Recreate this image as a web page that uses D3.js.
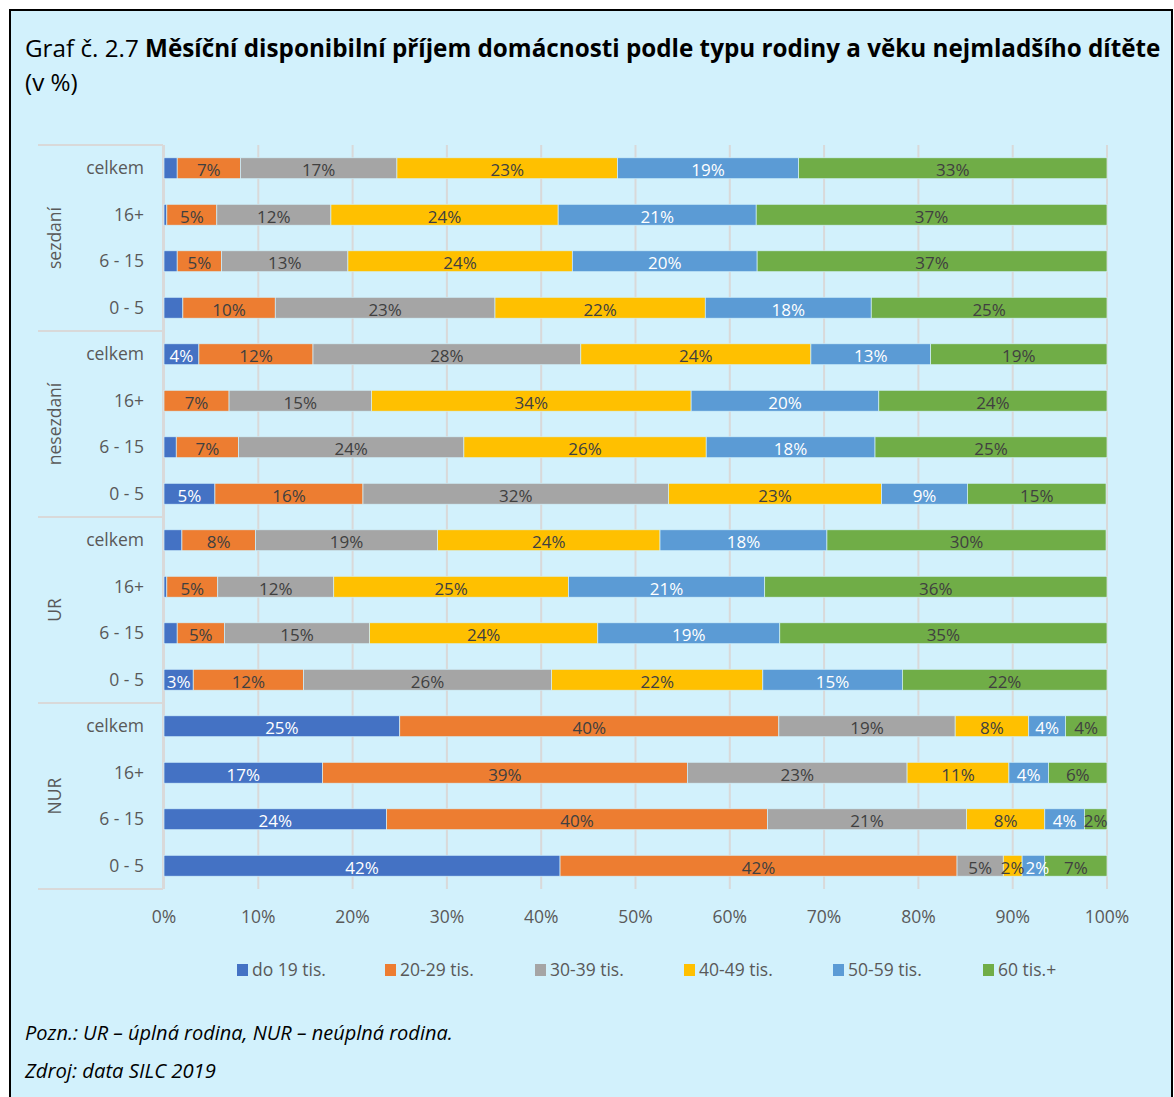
<!DOCTYPE html>
<html>
<head>
<meta charset="utf-8">
<script src="https://cdn.jsdelivr.net/npm/d3@7"></script>
<style>
  body { margin: 0; background: #fff; }
  svg text { font-family: "Open Sans", "Noto Sans", sans-serif; }
</style>
</head>
<body>
<div id="chart"></div>
<script>
// rows: groups x ages, top to bottom
const groups = ["sezdaní", "nesezdaní", "UR", "NUR"];
const ages = ["celkem", "16+", "6 - 15", "0 - 5"];
const series = ["do 19 tis.", "20-29 tis.", "30-39 tis.", "40-49 tis.", "50-59 tis.", "60 tis.+"];
const colors = ["#4472c4", "#ed7d31", "#a5a5a5", "#ffc000", "#5b9bd5", "#70ad47"];
const xTicks = [0, 10, 20, 30, 40, 50, 60, 70, 80, 90, 100];

// values in %, one entry per row
const do19 = [1.4, 0.3, 1.4, 2.0, 3.7, 0, 1.3, 5.4, 1.9, 0.3, 1.4, 3.1, 25.0, 16.8, 23.6, 42.0];
const t20_29 = [6.7, 5.3, 4.7, 9.8, 12.1, 6.9, 6.6, 15.7, 7.8, 5.4, 5.0, 11.7, 40.2, 38.7, 40.4, 42.1];
const t30_39 = [16.6, 12.1, 13.4, 23.3, 28.4, 15.1, 23.9, 32.4, 19.3, 12.3, 15.4, 26.3, 18.7, 23.3, 21.1, 4.9];
const t40_49 = [23.4, 24.1, 23.8, 22.3, 24.4, 33.9, 25.7, 22.6, 23.6, 24.9, 24.2, 22.4, 7.8, 10.8, 8.3, 2.0];
const t50_59 = [19.2, 21.0, 19.6, 17.6, 12.7, 19.9, 17.9, 9.1, 17.7, 20.8, 19.3, 14.8, 3.9, 4.2, 4.2, 2.4];
const t60 = [32.7, 37.2, 37.2, 25.0, 18.7, 24.2, 24.7, 14.7, 29.6, 36.3, 34.8, 21.7, 4.4, 6.2, 2.4, 6.6];

const values = [do19, t20_29, t30_39, t40_49, t50_59, t60];
const labelColors = ["#ffffff", "#404040", "#404040", "#404040", "#ffffff", "#404040"];

const rows = groups.flatMap(g => ages.map(a => ({group: g, age: a, id: g + "|" + a})));
rows.forEach((r, i) => {
    r.values = values.map(s => s[i]);
})

const W = 1174, H = 1097;
const svg = d3.select("#chart").append("svg")
    .attr("width", W)
    .attr("height", H);

// scale font so a text line fills the width it has in the picture
const fitWidth = (sel, size, target) => {
    const w = sel.node().getComputedTextLength();
    const s = size * target / w;
    sel.attr("font-size", s);
    return s;
}

// panel
svg.append("rect")
    .attr("x", 10).attr("y", 10)
    .attr("width", 1162).attr("height", H + 20)
    .attr("fill", "#d2f1fc")
    .attr("stroke", "#000")
    .attr("stroke-width", 2);

// title
const title = svg.append("text")
    .attr("x", 25).attr("y", 57)
    .attr("font-size", 22)
    .attr("fill", "#000");
title.append("tspan").text("Graf č. 2.7 ");
title.append("tspan").attr("font-weight", "bold")
    .text("Měsíční disponibilní příjem domácnosti podle typu rodiny a věku nejmladšího dítěte");
const titleSize = fitWidth(title, 22, 1136);

svg.append("text")
    .attr("x", 25).attr("y", 91)
    .attr("font-size", titleSize)
    .attr("fill", "#000")
    .text("(v %)");

const x = d3.scaleLinear().domain([0, 100]).range([164, 1107]);
const y = d3.scaleBand()
    .domain(rows.map(r => r.id))
    .range([145, 889])
    .paddingInner(0.55)
    .paddingOuter(0.275);

// gridlines
svg.append("g")
    .selectAll("line")
    .data(xTicks)
    .join("line")
    .attr("x1", d => x(d)).attr("x2", d => x(d))
    .attr("y1", 145).attr("y2", 889)
    .attr("stroke", "#d9d9d9")
    .attr("stroke-width", 2);

// x tick labels
svg.append("g")
    .selectAll("text")
    .data(xTicks)
    .join("text")
    .attr("x", d => x(d))
    .attr("y", 923)
    .attr("text-anchor", "middle")
    .attr("font-size", 17.5)
    .attr("fill", "#595959")
    .text(d => d + "%");

// category axis: vertical line + group separators
svg.append("line")
    .attr("x1", 163).attr("x2", 163)
    .attr("y1", 145).attr("y2", 889)
    .attr("stroke", "#d9d9d9").attr("stroke-width", 2);

const groupStep = (889 - 145) / groups.length;
svg.append("g")
    .selectAll("line")
    .data(d3.range(groups.length + 1))
    .join("line")
    .attr("x1", 38).attr("x2", 163)
    .attr("y1", i => 145 + i * groupStep)
    .attr("y2", i => 145 + i * groupStep)
    .attr("stroke", "#d9d9d9").attr("stroke-width", 2);

svg.append("g")
    .selectAll("text")
    .data(groups)
    .join("text")
    .attr("transform", (d, i) => `translate(61,${145 + (i + 0.5) * groupStep}) rotate(-90)`)
    .attr("text-anchor", "middle")
    .attr("font-size", 17.5)
    .attr("fill", "#595959")
    .text(d => d);

// age labels
svg.append("g")
    .selectAll("text")
    .data(rows)
    .join("text")
    .attr("x", 144)
    .attr("y", d => y(d.id) + y.bandwidth() / 2)
    .attr("dy", "0.35em")
    .attr("text-anchor", "end")
    .attr("font-size", 17.5)
    .attr("fill", "#595959")
    .text(d => d.age);

// stacked segments
const segs = rows.flatMap(r => {
    let acc = 0;
    return r.values.map((v, i) => {
        const s = {row: r.id, i, v, x0: acc, x1: acc + v};
        acc += v;
        return s;
    })
});

svg.append("g")
    .selectAll("rect")
    .data(segs.filter(s => s.v > 0))
    .join("rect")
    .attr("x", d => x(d.x0))
    .attr("y", d => y(d.row))
    .attr("width", d => x(Math.min(d.x1, 100)) - x(d.x0))
    .attr("height", y.bandwidth())
    .attr("fill", d => colors[d.i])
    .attr("stroke", "#d2f1fc")
    .attr("stroke-width", 0.7);

const labels = svg.append("g")
    .selectAll("text")
    .data(segs.filter(s => s.v >= 2.5 || (s.i > 0 && s.v >= 1.5)))
    .join("text")
    .attr("x", d => x((d.x0 + Math.min(d.x1, 100)) / 2))
    .attr("y", d => y(d.row) + y.bandwidth() / 2 + 2)
    .attr("dy", "0.35em")
    .attr("text-anchor", "middle")
    .attr("font-size", 17)
    .attr("fill", d => labelColors[d.i])
    .text(d => Math.round(d.v) + "%");

// push a label right when it runs into the previous one in its row
let prev = null;
labels.each(function (d) {
    const el = d3.select(this);
    const w = this.getComputedTextLength();
    let cx = +el.attr("x");
    if (prev && prev.row === d.row && cx - w / 2 < prev.right + 1) {
        cx = prev.right + 1 + w / 2;
        el.attr("x", cx);
    }
    prev = {row: d.row, right: cx + w / 2};
});

// legend
const legendX = [237, 385, 535, 684, 833, 983];
const legend = svg.append("g")
    .selectAll("g")
    .data(series)
    .join("g")
    .attr("transform", (d, i) => `translate(${legendX[i]},964)`);
legend.append("rect")
    .attr("width", 11).attr("height", 12)
    .attr("fill", (d, i) => colors[i]);
legend.append("text")
    .attr("x", 15).attr("y", 6)
    .attr("dy", "0.35em")
    .attr("font-size", 17.5)
    .attr("fill", "#595959")
    .text(d => d);

// notes
const note1 = svg.append("text")
    .attr("x", 25).attr("y", 1040)
    .attr("font-size", 18)
    .attr("font-style", "italic")
    .attr("fill", "#000")
    .text("Pozn.: UR – úplná rodina, NUR – neúplná rodina.");
fitWidth(note1, 18, 428);
const note2 = svg.append("text")
    .attr("x", 25).attr("y", 1078)
    .attr("font-size", 18)
    .attr("font-style", "italic")
    .attr("fill", "#000")
    .text("Zdroj: data SILC 2019");
fitWidth(note2, 18, 191);
</script>
</body>
</html>
